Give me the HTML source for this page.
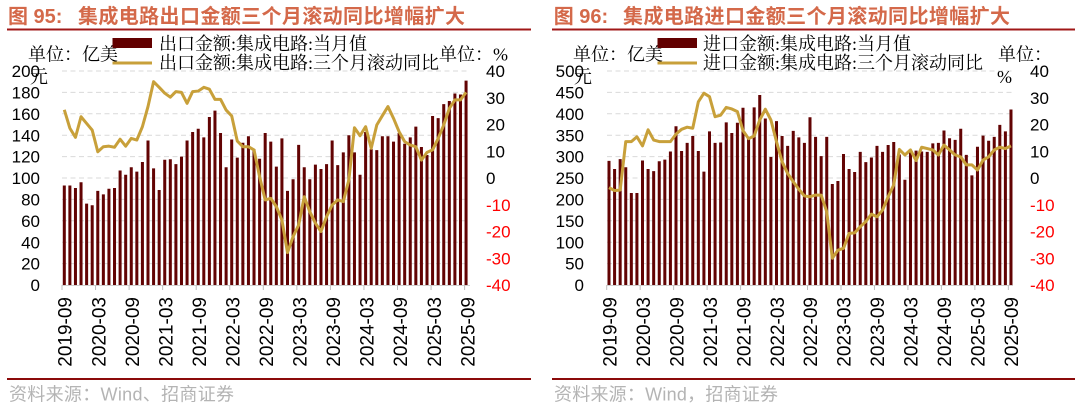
<!DOCTYPE html>
<html><head><meta charset="utf-8"><style>
html,body{margin:0;padding:0;background:#fff;}
svg{display:block;}
.num{font-family:"Liberation Sans",Arial,sans-serif;font-size:17px;fill:#000;}
.neg{fill:#ff0000;}
.xl{font-family:"Liberation Sans",Arial,sans-serif;font-size:19px;fill:#000;}
.cj{font-family:"Liberation Serif","Noto Serif CJK SC",serif;font-size:18px;fill:#000;}
.tt{font-family:"Liberation Sans","Noto Sans CJK SC",sans-serif;font-size:20px;font-weight:bold;fill:#d4694a;}
.ft{font-family:"Liberation Sans","Noto Sans CJK SC",sans-serif;font-size:18px;fill:#b4b4b4;}
.grid{stroke:#d9d9d9;stroke-width:1;stroke-dasharray:5 3.5;}
</style></head><body>
<svg width="1080" height="410" viewBox="0 0 1080 410" xmlns="http://www.w3.org/2000/svg">
<rect width="1080" height="410" fill="#fff"/>

<!-- ================= LEFT CHART ================= -->
<text class="tt" x="8" y="23">图 95:</text>
<text class="tt" x="78" y="23" textLength="387" lengthAdjust="spacing">集成电路出口金额三个月滚动同比增幅扩大</text>
<line x1="7" y1="29.5" x2="531" y2="29.5" stroke="#a01818" stroke-width="2"/>

<g>
<line class="grid" x1="62" y1="71" x2="470" y2="71"/>
<line class="grid" x1="62" y1="92.4" x2="470" y2="92.4"/>
<line class="grid" x1="62" y1="113.8" x2="470" y2="113.8"/>
<line class="grid" x1="62" y1="135.2" x2="470" y2="135.2"/>
<line class="grid" x1="62" y1="156.6" x2="470" y2="156.6"/>
<line class="grid" x1="62" y1="178" x2="470" y2="178"/>
<line class="grid" x1="62" y1="199.4" x2="470" y2="199.4"/>
<line class="grid" x1="62" y1="220.8" x2="470" y2="220.8"/>
<line class="grid" x1="62" y1="242.2" x2="470" y2="242.2"/>
<line class="grid" x1="62" y1="263.6" x2="470" y2="263.6"/>
</g>

<g class="num" text-anchor="end">
<text x="40" y="77.1">200</text>
<text x="40" y="98.5">180</text>
<text x="40" y="119.9">160</text>
<text x="40" y="141.3">140</text>
<text x="40" y="162.7">120</text>
<text x="40" y="184.1">100</text>
<text x="40" y="205.5">80</text>
<text x="40" y="226.9">60</text>
<text x="40" y="248.3">40</text>
<text x="40" y="269.7">20</text>
<text x="40" y="291.1">0</text>
</g>
<g class="num">
<text x="486" y="77.1">40</text>
<text x="486" y="103.85">30</text>
<text x="486" y="130.6">20</text>
<text x="486" y="157.35">10</text>
<text x="486" y="184.1">0</text>
<text class="neg" x="486" y="210.85">-10</text>
<text class="neg" x="486" y="237.6">-20</text>
<text class="neg" x="486" y="264.35">-30</text>
<text class="neg" x="486" y="291.1">-40</text>
</g>

<g transform="translate(64.3,285) scale(5.58,-1.07)" fill="#620303">
<path d="M-0.27 0h.54v93h-.54zM0.73 0h.54v93h-.54zM1.73 0h.54v90.6h-.54zM2.73 0h.54v96h-.54zM3.73 0h.54v76h-.54zM4.73 0h.54v74.5h-.54zM5.73 0h.54v88h-.54zM6.73 0h.54v84.7h-.54zM7.73 0h.54v90h-.54zM8.73 0h.54v90.6h-.54zM9.73 0h.54v107h-.54zM10.73 0h.54v103h-.54zM11.73 0h.54v110h-.54zM12.73 0h.54v106h-.54zM13.73 0h.54v115h-.54zM14.73 0h.54v135h-.54zM15.73 0h.54v109h-.54zM16.73 0h.54v88.8h-.54zM17.73 0h.54v117h-.54zM18.73 0h.54v117.5h-.54zM19.73 0h.54v113h-.54zM20.73 0h.54v120h-.54zM21.73 0h.54v135h-.54zM22.73 0h.54v143h-.54zM23.73 0h.54v146h-.54zM24.73 0h.54v138h-.54zM25.73 0h.54v157h-.54zM26.73 0h.54v163h-.54zM27.73 0h.54v142h-.54zM28.73 0h.54v110h-.54zM29.73 0h.54v136h-.54zM30.73 0h.54v119h-.54zM31.73 0h.54v133h-.54zM32.73 0h.54v139h-.54zM33.73 0h.54v127h-.54zM34.73 0h.54v118h-.54zM35.73 0h.54v142h-.54zM36.73 0h.54v134h-.54zM37.73 0h.54v110.6h-.54zM38.73 0h.54v137h-.54zM39.73 0h.54v88h-.54zM40.73 0h.54v98.8h-.54zM41.73 0h.54v131h-.54zM42.73 0h.54v110h-.54zM43.73 0h.54v98.8h-.54zM44.73 0h.54v112.5h-.54zM45.73 0h.54v108.4h-.54zM46.73 0h.54v113h-.54zM47.73 0h.54v135h-.54zM48.73 0h.54v112h-.54zM49.73 0h.54v124h-.54zM50.73 0h.54v140h-.54zM51.73 0h.54v124h-.54zM52.73 0h.54v103h-.54zM53.73 0h.54v143h-.54zM54.73 0h.54v127h-.54zM55.73 0h.54v126h-.54zM56.73 0h.54v139h-.54zM57.73 0h.54v139h-.54zM58.73 0h.54v134h-.54zM59.73 0h.54v142h-.54zM60.73 0h.54v132h-.54zM61.73 0h.54v138h-.54zM62.73 0h.54v148h-.54zM63.73 0h.54v129h-.54zM64.73 0h.54v121.5h-.54zM65.73 0h.54v158h-.54zM66.73 0h.54v156h-.54zM67.73 0h.54v169h-.54zM68.73 0h.54v172h-.54zM69.73 0h.54v179h-.54zM70.73 0h.54v178h-.54zM71.73 0h.54v191h-.54z"/>
</g>

<line x1="62" y1="285.5" x2="470" y2="285.5" stroke="#cfcfcf" stroke-width="1"/>
<g stroke="#bfbfbf" stroke-width="1">
<line x1="62" y1="285" x2="62" y2="290"/><line x1="95.55" y1="285" x2="95.55" y2="290"/><line x1="129.1" y1="285" x2="129.1" y2="290"/><line x1="162.65" y1="285" x2="162.65" y2="290"/><line x1="196.2" y1="285" x2="196.2" y2="290"/><line x1="229.75" y1="285" x2="229.75" y2="290"/><line x1="263.3" y1="285" x2="263.3" y2="290"/><line x1="296.85" y1="285" x2="296.85" y2="290"/><line x1="330.4" y1="285" x2="330.4" y2="290"/><line x1="363.95" y1="285" x2="363.95" y2="290"/><line x1="397.5" y1="285" x2="397.5" y2="290"/><line x1="431.05" y1="285" x2="431.05" y2="290"/><line x1="464.6" y1="285" x2="464.6" y2="290"/>
</g>

<g transform="translate(64.3,178) scale(5.58,-2.675)">
<polyline fill="none" stroke="#c8a03a" stroke-width="3" stroke-linejoin="round" vector-effect="non-scaling-stroke" points="0,25.5 1,18.6 2,15.2 3,22.9 4,20.4 5,17.9 6,9.8 7,11.7 8,11.9 9,11.5 10,14.5 11,11.9 12,14.8 13,14.2 14,19.2 15,26.7 16,36 17,33.9 18,31.7 19,30.2 20,32.3 21,32 22,27.9 23,32.3 24,32.5 25,33.9 26,33.2 27,29.4 28,29.4 29,25.4 30,23.2 31,13.8 32,11.7 33,11.7 34,10.5 35,0.5 36,-8.2 37,-7.6 38,-10.7 39,-15.7 40,-27.9 41,-21.9 42,-17.6 43,-7 44,-12.6 45,-16.9 46,-20 47,-14.5 48,-10.1 49,-8.2 50,-8.8 51,-0.7 52,18.8 53,15.8 54,19.2 55,11.1 56,19.8 57,23.3 58,26.7 59,22.3 60,17.3 61,13.6 62,12.3 63,11.7 64,6.7 65,9.6 66,10.5 67,14.8 68,19.8 69,26 70,29.2 71,29.2 72,32"/>
</g>

<text class="cj" x="28" y="60.5">单位：亿美</text>
<text class="cj" x="30" y="83">元</text>
<text class="cj" x="439" y="60.5">单位：%</text>
<rect x="112.5" y="38" width="39.5" height="10" fill="#620000"/>
<line x1="112.5" y1="63" x2="152" y2="63" stroke="#c8a03a" stroke-width="3"/>
<text class="cj" x="159" y="50">出口金额:集成电路:当月值</text>
<text class="cj" x="159" y="69">出口金额:集成电路:三个月滚动同比</text>

<g class="xl" text-anchor="end">
<text transform="translate(71.7,297) rotate(-90)">2019-09</text>
<text transform="translate(105.25,297) rotate(-90)">2020-03</text>
<text transform="translate(138.8,297) rotate(-90)">2020-09</text>
<text transform="translate(172.35,297) rotate(-90)">2021-03</text>
<text transform="translate(205.9,297) rotate(-90)">2021-09</text>
<text transform="translate(239.45,297) rotate(-90)">2022-03</text>
<text transform="translate(273,297) rotate(-90)">2022-09</text>
<text transform="translate(306.55,297) rotate(-90)">2023-03</text>
<text transform="translate(340.1,297) rotate(-90)">2023-09</text>
<text transform="translate(373.65,297) rotate(-90)">2024-03</text>
<text transform="translate(407.2,297) rotate(-90)">2024-09</text>
<text transform="translate(440.75,297) rotate(-90)">2025-03</text>
<text transform="translate(474.3,297) rotate(-90)">2025-09</text>
</g>

<line x1="7" y1="379" x2="531" y2="379" stroke="#8b0a0a" stroke-width="2"/>
<text class="ft" x="9" y="400.5" textLength="225" lengthAdjust="spacing">资料来源：Wind、招商证券</text>

<!-- ================= RIGHT CHART ================= -->
<text class="tt" x="553.7" y="23">图 96:</text>
<text class="tt" x="623" y="23" textLength="387" lengthAdjust="spacing">集成电路进口金额三个月滚动同比增幅扩大</text>
<line x1="552" y1="29.5" x2="1075" y2="29.5" stroke="#a01818" stroke-width="2"/>

<g>
<line class="grid" x1="607" y1="71" x2="1013" y2="71"/>
<line class="grid" x1="607" y1="92.4" x2="1013" y2="92.4"/>
<line class="grid" x1="607" y1="113.8" x2="1013" y2="113.8"/>
<line class="grid" x1="607" y1="135.2" x2="1013" y2="135.2"/>
<line class="grid" x1="607" y1="156.6" x2="1013" y2="156.6"/>
<line class="grid" x1="607" y1="178" x2="1013" y2="178"/>
<line class="grid" x1="607" y1="199.4" x2="1013" y2="199.4"/>
<line class="grid" x1="607" y1="220.8" x2="1013" y2="220.8"/>
<line class="grid" x1="607" y1="242.2" x2="1013" y2="242.2"/>
<line class="grid" x1="607" y1="263.6" x2="1013" y2="263.6"/>
</g>

<g class="num" text-anchor="end">
<text x="584" y="77.1">500</text>
<text x="584" y="98.5">450</text>
<text x="584" y="119.9">400</text>
<text x="584" y="141.3">350</text>
<text x="584" y="162.7">300</text>
<text x="584" y="184.1">250</text>
<text x="584" y="205.5">200</text>
<text x="584" y="226.9">150</text>
<text x="584" y="248.3">100</text>
<text x="584" y="269.7">50</text>
<text x="584" y="291.1">0</text>
</g>
<g class="num">
<text x="1030" y="77.1">40</text>
<text x="1030" y="103.85">30</text>
<text x="1030" y="130.6">20</text>
<text x="1030" y="157.35">10</text>
<text x="1030" y="184.1">0</text>
<text class="neg" x="1030" y="210.85">-10</text>
<text class="neg" x="1030" y="237.6">-20</text>
<text class="neg" x="1030" y="264.35">-30</text>
<text class="neg" x="1030" y="291.1">-40</text>
</g>

<g transform="translate(609,285) scale(5.583,-0.428)" fill="#620303">
<path d="M-0.27 0h.54v290h-.54zM0.73 0h.54v271h-.54zM1.73 0h.54v294h-.54zM2.73 0h.54v275h-.54zM3.73 0h.54v215h-.54zM4.73 0h.54v215h-.54zM5.73 0h.54v291h-.54zM6.73 0h.54v271h-.54zM7.73 0h.54v266h-.54zM8.73 0h.54v289h-.54zM9.73 0h.54v293h-.54zM10.73 0h.54v312h-.54zM11.73 0h.54v371h-.54zM12.73 0h.54v313h-.54zM13.73 0h.54v332h-.54zM14.73 0h.54v348h-.54zM15.73 0h.54v313h-.54zM16.73 0h.54v265h-.54zM17.73 0h.54v359h-.54zM18.73 0h.54v332h-.54zM19.73 0h.54v333h-.54zM20.73 0h.54v380h-.54zM21.73 0h.54v355h-.54zM22.73 0h.54v379h-.54zM23.73 0h.54v414h-.54zM24.73 0h.54v346h-.54zM25.73 0h.54v415h-.54zM26.73 0h.54v444h-.54zM27.73 0h.54v389h-.54zM28.73 0h.54v299h-.54zM29.73 0h.54v383h-.54zM30.73 0h.54v348h-.54zM31.73 0h.54v325h-.54zM32.73 0h.54v360h-.54zM33.73 0h.54v345h-.54zM34.73 0h.54v332h-.54zM35.73 0h.54v392h-.54zM36.73 0h.54v346h-.54zM37.73 0h.54v301h-.54zM38.73 0h.54v346h-.54zM39.73 0h.54v236h-.54zM40.73 0h.54v243h-.54zM41.73 0h.54v306h-.54zM42.73 0h.54v271h-.54zM43.73 0h.54v264h-.54zM44.73 0h.54v311h-.54zM45.73 0h.54v287h-.54zM46.73 0h.54v298h-.54zM47.73 0h.54v325h-.54zM48.73 0h.54v311h-.54zM49.73 0h.54v327h-.54zM50.73 0h.54v334h-.54zM51.73 0h.54v305h-.54zM52.73 0h.54v246h-.54zM53.73 0h.54v312h-.54zM54.73 0h.54v314h-.54zM55.73 0h.54v312h-.54zM56.73 0h.54v311h-.54zM57.73 0h.54v331h-.54zM58.73 0h.54v332h-.54zM59.73 0h.54v361h-.54zM60.73 0h.54v343h-.54zM61.73 0h.54v339h-.54zM62.73 0h.54v365h-.54zM63.73 0h.54v304h-.54zM64.73 0h.54v256h-.54zM65.73 0h.54v323h-.54zM66.73 0h.54v349h-.54zM67.73 0h.54v337h-.54zM68.73 0h.54v346h-.54zM69.73 0h.54v374h-.54zM70.73 0h.54v359h-.54zM71.73 0h.54v410h-.54z"/>
</g>

<line x1="607" y1="285.5" x2="1013" y2="285.5" stroke="#cfcfcf" stroke-width="1"/>
<g stroke="#bfbfbf" stroke-width="1">
<line x1="606.7" y1="285" x2="606.7" y2="290"/><line x1="640.17" y1="285" x2="640.17" y2="290"/><line x1="673.64" y1="285" x2="673.64" y2="290"/><line x1="707.11" y1="285" x2="707.11" y2="290"/><line x1="740.58" y1="285" x2="740.58" y2="290"/><line x1="774.05" y1="285" x2="774.05" y2="290"/><line x1="807.52" y1="285" x2="807.52" y2="290"/><line x1="840.99" y1="285" x2="840.99" y2="290"/><line x1="874.46" y1="285" x2="874.46" y2="290"/><line x1="907.93" y1="285" x2="907.93" y2="290"/><line x1="941.4" y1="285" x2="941.4" y2="290"/><line x1="974.87" y1="285" x2="974.87" y2="290"/><line x1="1008.34" y1="285" x2="1008.34" y2="290"/>
</g>

<g transform="translate(609,178) scale(5.583,-2.675)">
<polyline fill="none" stroke="#c8a03a" stroke-width="3" stroke-linejoin="round" vector-effect="non-scaling-stroke" points="0,-3.6 1,-4.7 2,-4.5 3,13.6 4,13.6 5,15.4 6,12 7,18 8,14.2 9,13.6 10,13.6 11,13.6 12,16.4 13,18.2 14,19 15,18.6 16,28.5 17,31.7 18,30.4 19,22.9 20,23.5 21,26.4 22,25.8 23,24.8 24,17.7 25,14.7 26,15.7 27,21.7 28,25.7 29,21.7 30,13.6 31,6.1 32,1.7 33,-1.4 34,-4.2 35,-6.7 36,-7 37,-6.4 38,-6.4 39,-12.6 40,-30 41,-27 42,-26.3 43,-20.7 44,-20.5 45,-18.2 46,-16.3 47,-13.5 48,-14.5 49,-12 50,-7 51,-2.6 52,10.7 53,8.6 54,10.5 55,6.5 56,11.5 57,11 58,10.5 59,8.6 60,12.3 61,10.5 62,8.6 63,7.9 64,4.9 65,4.9 66,3 67,6.7 68,7.9 69,10.5 70,11.5 71,11 72,12"/>
</g>

<text class="cj" x="573" y="60.5">单位：亿美</text>
<text class="cj" x="574" y="83">元</text>
<text class="cj" x="998" y="60.5">单位：</text>
<text class="cj" x="997" y="83">%</text>
<rect x="657.5" y="38" width="39.5" height="10" fill="#620000"/>
<line x1="657.5" y1="63" x2="697" y2="63" stroke="#c8a03a" stroke-width="3"/>
<text class="cj" x="703" y="50">进口金额:集成电路:当月值</text>
<text class="cj" x="703" y="69">进口金额:集成电路:三个月滚动同比</text>

<g class="xl" text-anchor="end">
<text transform="translate(616.4,297) rotate(-90)">2019-09</text>
<text transform="translate(649.87,297) rotate(-90)">2020-03</text>
<text transform="translate(683.34,297) rotate(-90)">2020-09</text>
<text transform="translate(716.81,297) rotate(-90)">2021-03</text>
<text transform="translate(750.28,297) rotate(-90)">2021-09</text>
<text transform="translate(783.75,297) rotate(-90)">2022-03</text>
<text transform="translate(817.22,297) rotate(-90)">2022-09</text>
<text transform="translate(850.69,297) rotate(-90)">2023-03</text>
<text transform="translate(884.16,297) rotate(-90)">2023-09</text>
<text transform="translate(917.63,297) rotate(-90)">2024-03</text>
<text transform="translate(951.1,297) rotate(-90)">2024-09</text>
<text transform="translate(984.57,297) rotate(-90)">2025-03</text>
<text transform="translate(1018.04,297) rotate(-90)">2025-09</text>
</g>

<line x1="552" y1="379" x2="1075" y2="379" stroke="#8b0a0a" stroke-width="2"/>
<text class="ft" x="554" y="400.5" textLength="224" lengthAdjust="spacing">资料来源：Wind，招商证券</text>
</svg>
</body></html>
